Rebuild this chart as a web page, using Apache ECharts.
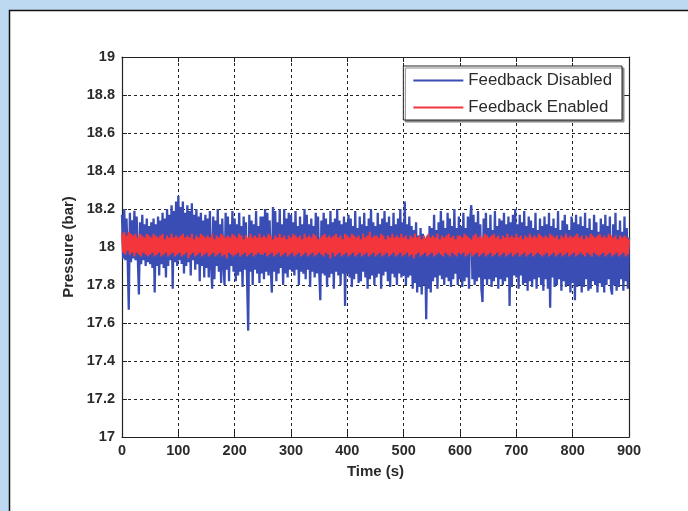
<!DOCTYPE html>
<html><head><meta charset="utf-8">
<script src="https://cdn.jsdelivr.net/npm/echarts@6/dist/echarts.min.js"></script>
<style>html,body{margin:0;padding:0;background:#fff}#c{width:688px;height:511px}</style>
</head><body><div id="c"></div>
<script>
// sample interval in seconds
const dt = 2;
const xTicks = [0,100,200,300,400,500,600,700,800,900];
const yTicks = [17,17.2,17.4,17.6,17.8,18,18.2,18.4,18.6,18.8,19];
const seriesNames = ['Feedback Disabled','Feedback Enabled'];

const disabled = [
18.17,17.94,18.20,17.93,18.15,17.95,17.67,18.18,17.92,18.14,17.94,18.19,17.93,18.16,17.95,17.75,18.13,17.91,18.17,17.93,18.12,17.90,18.15,17.92,18.11,
17.91,18.13,17.89,18.15,17.76,18.12,17.90,18.16,17.85,18.14,17.91,18.18,17.89,18.15,17.84,18.20,17.90,18.17,17.93,18.22,17.78,18.19,17.92,18.24,17.90,
18.27,17.93,18.21,17.91,18.24,17.86,18.18,17.90,18.22,17.92,18.19,17.85,18.23,17.93,18.17,17.88,18.20,17.91,18.16,17.82,18.18,17.90,18.14,17.84,18.17,
17.89,18.15,17.84,18.19,17.91,17.78,18.16,17.83,18.14,17.90,18.20,17.87,18.12,17.81,18.15,17.91,17.80,18.18,17.88,18.16,17.82,18.12,17.90,18.19,17.87,
18.15,17.82,18.12,17.85,18.18,17.87,18.11,17.79,18.16,17.88,18.13,17.83,17.56,18.17,17.87,18.14,17.80,18.12,17.88,18.19,17.86,18.11,17.81,18.16,17.86,
18.16,17.83,18.20,17.87,18.18,17.85,18.14,17.89,17.76,18.21,17.87,18.19,17.82,18.13,17.86,18.20,17.89,18.12,17.80,18.20,17.86,18.15,17.84,18.18,17.88,
18.17,17.87,18.13,17.85,18.19,17.88,18.11,17.80,18.16,17.87,18.12,17.86,18.20,17.83,18.17,17.88,18.12,17.79,18.15,17.87,18.11,17.84,18.18,17.86,18.16,
17.88,17.72,18.14,17.86,18.18,17.85,18.15,17.79,18.12,17.84,18.19,17.86,18.13,17.78,18.15,17.87,18.20,17.85,18.14,17.80,18.12,17.86,18.16,17.69,18.13,
17.86,18.17,17.84,18.15,17.79,18.11,17.83,18.19,17.86,18.10,17.81,18.16,17.82,18.12,17.87,18.18,17.84,18.11,17.78,18.15,17.83,18.20,17.85,18.13,17.80,
18.11,17.84,18.18,17.86,18.12,17.78,18.15,17.85,18.19,17.87,18.13,17.82,18.16,17.79,18.11,17.86,18.18,17.84,18.12,17.80,18.15,17.86,18.20,17.84,18.13,
17.85,18.24,17.80,18.12,17.84,18.16,17.85,18.11,17.78,18.09,17.81,18.13,17.76,18.06,17.79,18.10,17.75,18.07,17.80,18.04,17.62,18.06,17.78,18.11,17.76,
18.10,17.82,18.17,17.84,18.09,17.78,18.13,17.85,18.19,17.83,18.14,17.80,18.10,17.84,18.18,17.82,18.15,17.79,18.11,17.83,18.20,17.86,18.10,17.80,18.16,
17.83,18.11,17.79,18.18,17.82,18.10,17.84,18.16,17.78,18.14,18.22,17.83,18.17,17.80,18.13,17.82,18.19,17.84,18.12,17.78,17.71,18.15,17.83,18.18,17.80,
18.10,17.83,18.17,17.79,18.09,17.82,18.19,17.84,18.11,17.78,18.15,17.83,18.14,17.80,18.18,17.82,18.12,17.84,18.16,17.69,18.13,17.79,18.17,17.85,18.20,
17.84,18.12,17.78,18.17,17.85,18.13,17.80,18.19,17.81,18.11,17.77,18.16,17.82,18.14,17.79,18.10,17.83,18.18,17.78,18.09,17.84,18.15,17.80,18.11,17.77,
18.16,17.83,18.12,17.78,18.18,17.68,18.11,17.84,18.15,17.79,18.10,17.80,18.19,17.83,18.09,17.77,18.14,17.82,18.17,17.79,18.12,17.80,18.09,17.76,18.16,
17.81,18.13,17.72,18.17,17.79,18.12,17.80,18.16,17.76,18.11,17.79,18.18,17.83,18.10,17.77,18.15,17.78,18.09,17.82,18.17,17.80,18.13,17.76,18.08,17.81,
18.15,17.79,18.12,17.76,18.17,17.80,18.11,17.83,18.16,17.78,17.75,18.12,17.80,18.18,17.77,18.09,17.79,18.14,17.83,18.08,17.77,18.16,17.82,18.10,17.78,
18.05];

const enabled = [
18.07,17.97,18.08,17.96,18.06,17.98,18.08,17.96,18.07,17.97,18.06,17.95,18.07,17.97,18.05,17.96,18.07,17.95,18.06,17.97,18.05,17.96,18.07,17.95,18.06,
17.96,18.05,17.97,18.07,17.95,18.06,17.96,18.05,17.97,18.06,17.95,18.07,17.96,18.04,17.97,18.06,17.95,18.05,17.96,18.07,17.97,18.05,17.95,18.06,17.96,
18.05,17.97,18.06,17.95,18.07,17.96,18.05,17.97,18.06,17.94,18.05,17.96,18.07,17.97,18.04,17.95,18.06,17.96,18.05,17.97,18.07,17.95,18.06,17.96,18.05,
17.97,18.06,17.95,18.05,17.96,18.07,17.97,18.04,17.95,18.06,17.96,18.05,17.97,18.07,17.95,18.06,17.96,18.05,17.94,18.06,17.97,18.05,17.96,18.07,17.95,
18.06,17.96,18.05,17.97,18.07,17.95,18.06,17.96,18.04,17.97,18.06,17.95,18.05,17.96,18.07,17.97,18.05,17.95,18.06,17.96,18.05,17.97,18.07,17.96,18.05,
17.96,18.06,17.97,18.05,17.95,18.07,17.96,18.06,17.97,18.04,17.95,18.06,17.96,18.05,17.97,18.07,17.95,18.05,17.96,18.06,17.97,18.04,17.95,18.06,17.96,
18.05,17.97,18.07,17.95,18.06,17.96,18.05,17.97,18.06,17.95,18.04,17.96,18.07,17.97,18.05,17.95,18.06,17.96,18.05,17.97,18.07,17.95,18.06,17.96,18.04,
17.97,18.05,17.96,18.06,17.95,18.07,17.97,18.05,17.96,18.06,17.94,18.05,17.97,18.06,17.95,18.07,17.96,18.05,17.97,18.06,17.95,18.04,17.96,18.07,17.97,
18.06,17.95,18.05,17.96,18.07,17.97,18.06,17.95,18.05,17.96,18.06,17.97,18.04,17.95,18.07,17.96,18.05,17.97,18.06,17.95,18.08,17.96,18.05,17.97,18.06,
17.95,18.06,17.96,18.05,17.97,18.07,17.95,18.06,17.96,18.04,17.97,18.06,17.95,18.05,17.96,18.07,17.97,18.05,17.95,18.06,17.96,18.05,17.97,18.07,17.95,
18.05,17.96,18.06,17.97,18.04,17.95,18.06,17.96,18.05,17.94,18.07,17.96,18.05,17.97,18.06,17.95,18.04,17.96,18.06,17.97,18.05,17.95,18.07,17.96,18.05,
17.97,18.06,17.95,18.05,17.96,18.07,17.97,18.04,17.96,18.06,17.95,18.05,17.97,18.06,17.96,18.07,17.95,18.05,17.97,18.06,17.96,18.04,17.95,18.06,17.97,
18.06,17.96,18.05,17.97,18.07,17.95,18.06,17.96,18.05,17.97,18.04,17.95,18.06,17.96,18.07,17.97,18.05,17.95,18.06,17.96,18.05,17.97,18.07,17.95,18.06,
17.96,18.05,17.97,18.06,17.95,18.07,17.96,18.05,17.97,18.06,17.95,18.04,17.96,18.06,17.97,18.05,17.95,18.07,17.96,18.05,17.97,18.06,17.95,18.05,17.96,
18.07,17.97,18.05,17.95,18.06,17.96,18.04,17.97,18.06,17.95,18.05,17.96,18.07,17.97,18.05,17.95,18.06,17.96,18.05,17.97,18.07,17.96,18.06,17.95,18.05,
17.96,18.06,17.97,18.05,17.95,18.07,17.96,18.06,17.97,18.05,17.95,18.06,17.96,18.04,17.97,18.06,17.95,18.05,17.96,18.07,17.97,18.05,17.95,18.06,17.96,
18.05,17.97,18.06,17.95,18.07,17.96,18.05,17.97,18.06,17.96,18.04,17.95,18.06,17.97,18.05,17.96,18.07,17.95,18.06,17.97,18.05,17.96,18.06,17.95,18.07,
17.96,18.05,17.97,18.06,17.95,18.05,17.96,18.07,17.97,18.06,17.95,18.05,17.96,18.06,17.97,18.04,17.95,18.06,17.96,18.05,17.97,18.06,17.95,18.05,17.96,
18.04];

const toPairs = arr => arr.map((v, i) => [i * dt, v]);
const font = 'Arial, "Liberation Sans", sans-serif';
const tickStyle = {color: '#2a2a2a', fontSize: 14.5, fontWeight: 'bold', fontFamily: font};
const nameStyle = {color: '#2a2a2a', fontSize: 15, fontWeight: 'bold', fontFamily: font};
const blue = '#3a4db4', red = '#f2363c';

const chart = echarts.init(document.getElementById('c'), null, {renderer: 'canvas'});
const xAxisBase = {type: 'value', min: xTicks[0], max: xTicks[xTicks.length-1], interval: xTicks[1]-xTicks[0]};
const yAxisBase = {type: 'value', min: yTicks[0], max: yTicks[yTicks.length-1], interval: 0.2};
const frameLine = {show: true, onZero: false, lineStyle: {color: '#222', width: 1.2}};
const inTick = {show: true, inside: true, length: 5, lineStyle: {color: '#222'}};
chart.setOption({
  animation: false,
  backgroundColor: '#bcd9f1',
  graphic: [{type: 'rect', z: -10, shape: {x: 9.5, y: 10.5, width: 700, height: 520},
    style: {fill: '#fff', stroke: '#111', lineWidth: 1.5}}],
  grid: {left: 122, top: 57, width: 507, height: 380, show: false},
  legend: {
    data: [{name: seriesNames[0], icon: 'rect'}, {name: seriesNames[1], icon: 'rect'}],
    orient: 'vertical', right: 66, top: 66,
    backgroundColor: '#fff', borderColor: '#222', borderWidth: 1,
    padding: [6, 10, 4, 10], itemGap: 10, itemWidth: 50, itemHeight: 2,
    shadowColor: '#888', shadowOffsetX: 2, shadowOffsetY: 2, shadowBlur: 0,
    textStyle: {color: '#2a2a2a', fontSize: 16.8, fontFamily: font}
  },
  xAxis: [
    Object.assign({}, xAxisBase, {
      position: 'bottom', name: 'Time (s)', nameLocation: 'middle', nameGap: 27,
      nameTextStyle: nameStyle,
      axisLine: frameLine, axisTick: inTick,
      axisLabel: Object.assign({margin: 6}, tickStyle),
      splitLine: {show: true, lineStyle: {color: '#222', type: [3, 3], width: 1}}
    }),
    Object.assign({}, xAxisBase, {
      position: 'top', axisLine: frameLine, axisTick: inTick,
      axisLabel: {show: false}, splitLine: {show: false}
    })
  ],
  yAxis: [
    Object.assign({}, yAxisBase, {
      position: 'left', name: 'Pressure (bar)', nameLocation: 'middle', nameGap: 46,
      nameTextStyle: nameStyle,
      axisLine: frameLine, axisTick: inTick,
      axisLabel: Object.assign({margin: 7}, tickStyle),
      splitLine: {show: true, lineStyle: {color: '#222', type: [3, 3], width: 1}}
    }),
    Object.assign({}, yAxisBase, {
      position: 'right', axisLine: frameLine, axisTick: inTick,
      axisLabel: {show: false}, splitLine: {show: false}
    })
  ],
  series: [
    {name: seriesNames[0], type: 'line', data: toPairs(disabled), showSymbol: false, symbol: 'none',
     lineStyle: {color: blue, width: 2.3}, itemStyle: {color: blue}, z: 2},
    {name: seriesNames[1], type: 'line', data: toPairs(enabled), showSymbol: false, symbol: 'none',
     lineStyle: {color: red, width: 2}, itemStyle: {color: red}, z: 3}
  ]
});
</script></body></html>
